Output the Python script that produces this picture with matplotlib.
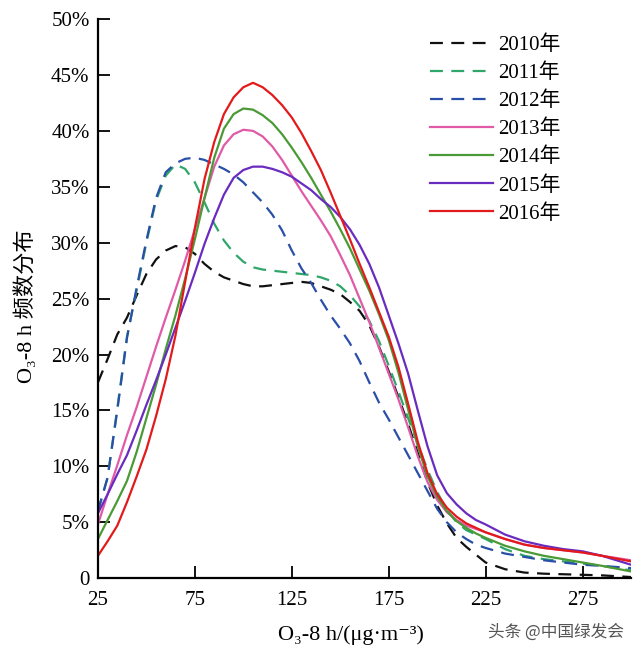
import numpy as np
import matplotlib.pyplot as plt

fam = ['Liberation Serif', 'Noto Sans CJK SC', 'DejaVu Sans']
plt.rcParams['font.family'] = fam

# x grid (ug/m3) and frequency distributions (%)
x = [25, 30, 35, 40, 45, 50, 55, 60, 65, 70, 75, 80, 85, 90, 95, 100, 105, 110, 115, 120,
     125, 130, 135, 140, 145, 150, 155, 160, 165, 170, 175, 180, 185, 190, 195, 200, 205, 210,
     215, 220, 225, 235, 245, 255, 265, 275, 285, 300]

y2010 = [17.5, 19.6, 21.8, 23.3, 25.3, 27.2, 28.5, 29.3, 29.7, 29.6, 29.0, 28.1, 27.4, 26.9, 26.6, 26.3,
         26.1, 26.1, 26.2, 26.3, 26.4, 26.5, 26.4, 26.1, 25.8, 25.4, 24.7, 23.9, 22.6, 20.7, 18.5, 16.2,
         13.8, 11.2, 8.6, 6.5, 4.9, 3.6, 2.8, 2.1, 1.4, 0.8, 0.5, 0.4, 0.35, 0.3, 0.25, 0.1]
y2011 = [6.0, 9.0, 15.2, 21.6, 25.8, 30.0, 33.8, 36.0, 37.0, 36.6, 35.4, 33.6, 31.7, 30.2, 29.1, 28.3,
         27.8, 27.6, 27.5, 27.4, 27.3, 27.2, 27.1, 26.9, 26.6, 26.1, 25.3, 24.3, 23.0, 21.2, 19.0, 16.7,
         14.3, 12.0, 9.7, 7.7, 6.1, 5.0, 4.3, 3.9, 3.5, 2.6, 2.0, 1.7, 1.5, 1.3, 1.1, 0.7]
y2012 = [6.0, 9.0, 15.0, 21.5, 26.0, 30.2, 34.0, 36.3, 37.1, 37.5, 37.6, 37.4, 37.0, 36.6, 36.1, 35.4,
         34.5, 33.6, 32.5, 31.1, 29.3, 27.7, 26.4, 24.9, 23.5, 22.3, 21.0, 19.4, 17.5, 15.7, 14.2, 12.6,
         11.0, 9.4, 7.8, 6.2, 5.0, 4.1, 3.5, 3.0, 2.7, 2.2, 1.9, 1.6, 1.4, 1.2, 1.1, 0.9]
y2013 = [4.8, 7.5, 10.1, 12.8, 15.3, 18.0, 20.7, 23.3, 25.8, 28.4, 31.2, 34.0, 36.8, 38.7, 39.7, 40.1,
         40.0, 39.5, 38.6, 37.4, 36.0, 34.6, 33.3, 32.0, 30.6, 28.9, 27.1, 25.0, 22.9, 20.6, 18.3, 16.0,
         13.5, 10.9, 8.6, 7.0, 5.9, 5.2, 4.7, 4.4, 4.1, 3.5, 3.0, 2.7, 2.5, 2.3, 2.0, 1.6]
y2014 = [3.5, 5.2, 6.9, 8.7, 11.3, 14.3, 17.3, 20.5, 23.5, 26.8, 30.3, 34.0, 37.6, 40.2, 41.5, 42.0,
         41.9, 41.4, 40.7, 39.7, 38.5, 37.2, 35.8, 34.3, 32.8, 31.2, 29.5, 27.6, 25.7, 23.6, 21.3, 18.4,
         15.1, 11.8, 9.1, 7.3, 6.0, 5.1, 4.5, 4.0, 3.6, 2.9, 2.4, 2.0, 1.7, 1.4, 1.1, 0.6]
y2015 = [5.8, 7.5, 9.3, 11.0, 13.2, 15.5, 17.7, 20.0, 22.4, 24.8, 27.3, 29.9, 32.2, 34.3, 35.8, 36.5,
         36.8, 36.8, 36.6, 36.3, 35.9, 35.3, 34.7, 33.9, 33.2, 32.3, 31.2, 29.8, 28.1, 26.0, 23.5, 21.0,
         18.3, 15.0, 11.8, 9.2, 7.6, 6.6, 5.8, 5.2, 4.8, 3.9, 3.3, 2.9, 2.6, 2.4, 2.0, 1.2]
y2016 = [2.0, 3.3, 4.7, 6.8, 9.1, 11.5, 14.5, 17.8, 21.7, 26.5, 31.3, 35.7, 39.0, 41.5, 43.0, 43.9,
         44.3, 43.9, 43.2, 42.3, 41.2, 39.8, 38.2, 36.5, 34.5, 32.4, 30.3, 28.1, 26.0, 23.8, 21.6, 18.9,
         15.6, 12.2, 9.4, 7.5, 6.3, 5.5, 4.9, 4.5, 4.1, 3.5, 3.0, 2.7, 2.5, 2.3, 2.0, 1.5]

labels = ['2010年', '2011年', '2012年', '2013年', '2014年', '2015年', '2016年']
series = [y2010, y2011, y2012, y2013, y2014, y2015, y2016]
colors = ['#111111', '#2fa66a', '#2a4fa8', '#e05aa8', '#4a9a35', '#6a2bc0', '#e31a1c']
dashed = [True, True, True, False, False, False, False]

fig = plt.figure(figsize=(6.4, 6.57), dpi=100)
ax = fig.add_axes([0.153, 0.120, 0.833, 0.851])

for ys, lab, c, d in zip(series, labels, colors, dashed):
    if d:
        ax.plot(x, ys, color=c, lw=1.6, ls=(0, (5.8, 3.8)), label=lab)
    else:
        ax.plot(x, ys, color=c, lw=1.6, label=lab)

ax.set_xlim(25, 300)
ax.set_ylim(0, 50)
ax.set_xticks([25, 75, 125, 175, 225, 275])
ax.set_yticks(range(0, 51, 5))
ax.set_yticklabels(['0'] + [f'{v}%' for v in range(5, 51, 5)])
ax.tick_params(direction='in', length=8.5, width=1.3, labelsize=15)
ax.tick_params(axis='x', pad=9)
ax.tick_params(axis='y', pad=6)
for s in ['top', 'right']:
    ax.spines[s].set_visible(False)
for s in ['left', 'bottom']:
    ax.spines[s].set_linewidth(1.6)

ax.set_xlabel('O₃-8 h/(μg·m⁻³)', fontsize=16, family=fam)
ax.xaxis.set_label_coords(0.475, -0.085)
ax.set_ylabel('O₃-8 h 频数分布', fontsize=16, family=fam)
ax.yaxis.set_label_coords(-0.114, 0.487)

leg = ax.legend(loc='upper left', bbox_to_anchor=(0.608, 0.986), borderaxespad=0,
                frameon=False, fontsize=15, handlelength=3.0, handletextpad=0.25,
                labelspacing=0.41)

fig.text(0.975, 0.038, '头条 @中国绿发会', ha='right', va='center', fontsize=12,
         color='#555555', family=['Noto Sans CJK SC', 'DejaVu Sans'])

fig.savefig('out.png', dpi=100, facecolor='white')
